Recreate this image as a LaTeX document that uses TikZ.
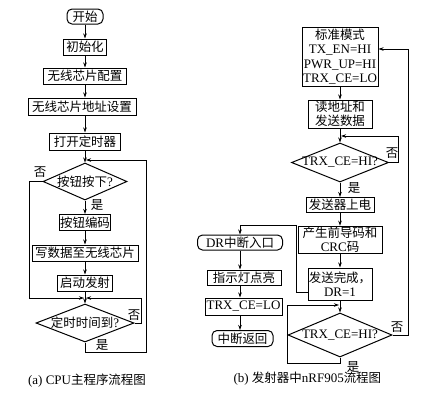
\documentclass[tikz,border=0pt]{standalone}
\usepackage{fontspec}
\setmainfont{Liberation Serif}
\newfontfamily\cjk[Scale=0.96]{Noto Sans CJK SC}
\newcommand\zh[1]{{\cjk #1}}
\usetikzlibrary{shapes.geometric,arrows.meta}
\begin{document}
\begin{tikzpicture}[x=1pt,y=-1pt,
  every node/.style={font=\fontsize{13}{14}\selectfont},
  box/.style={draw, line width=1pt, inner xsep=0.5pt, inner ysep=1pt, minimum height=16pt},
  rbox/.style={box, rounded corners=5pt},
  dia/.style={diamond, draw, line width=1pt, inner sep=-6pt},
  ln/.style={line width=0.9pt},
  arr/.style={ln, -{Stealth[length=5pt,width=3.5pt]}},
  lbl/.style={inner sep=0pt}]
\useasboundingbox (0,0) rectangle (431,400);
% ---------- (a) ----------
\node[rbox, minimum width=36pt, minimum height=15pt] (a1) at (85,16.5) {\zh{开始}};
\node[box, minimum width=43pt] (a2) at (85,47) {\zh{初始化}};
\node[box, minimum width=83pt] (a3) at (85,76) {\zh{无线芯片配置}};
\node[box, minimum width=108pt, minimum height=17pt] (a4) at (82,106.5) {\zh{无线芯片地址设置}};
\node[box, minimum width=71pt, minimum height=17pt] (a5) at (85,141.5) {\zh{打开定时器}};
\coordinate (j1) at (85,160);
\node[dia, aspect=2.3, minimum width=84pt, minimum height=37pt] (d1) at (85,181.5) {\zh{按钮按下}?};
\node[box, minimum width=48pt] (a6) at (85,222.5) {\zh{按钮编码}};
\node[box, minimum width=106pt] (a7) at (85,253) {\zh{写数据至无线芯片}};
\node[box, minimum width=55pt] (a8) at (85,283) {\zh{启动发射}};
\coordinate (j2) at (85,298);
\node[dia, aspect=2.6, minimum width=98pt, minimum height=38pt] (d2) at (85,323) {\zh{定时时间到}?};

\draw[arr] (a1) -- (a2);
\draw[arr] (a2) -- (a3);
\draw[arr] (a3) -- (a3 |- a4.north);
\draw[arr] (a5 |- a4.south) -- (a5);
\draw[arr] (a5) -- (d1);
\draw[arr] (d1) -- (a6);
\draw[arr] (a6) -- (a7);
\draw[arr] (a7) -- (a8);
\draw[arr] (a8) -- (d2);
\draw[arr, shorten >=1pt] (d1.west) -- (29,181.5) -- (29,298) -- (j2);
\draw[arr, shorten >=1pt] (d2.east) -- (141,323) -- (141,298) -- (j2);
\draw[arr, shorten >=1pt] (d2.south) -- (85,352) -- (146,352) -- (146,160) -- (j1);
\node[lbl] (n1) at (40,172) {\zh{否}};
\node[lbl] (y1) at (97,205) {\zh{是}};
\node[lbl] (n2) at (134,315) {\zh{否}};
\node[lbl] (y2) at (102,345) {\zh{是}};
\node (capa) at (87,381) {(a) CPU\zh{主程序流程图}};
% ---------- (b) ----------
\node[box, align=center, minimum width=76pt, minimum height=59pt, font=\fontsize{13}{14.5}\selectfont] (b1) at (340,56.5) {\zh{标准模式}\\TX\_EN=HI\\PWR\_UP=HI\\TRX\_CE=LO};
\node[box, align=center, minimum width=64pt, minimum height=28pt] (b2) at (340,114) {\zh{读地址和}\\\zh{发送数据}};
\coordinate (jb1) at (340,136);
\node[dia, aspect=2.5, minimum width=97pt, minimum height=39pt] (db1) at (340,162.5) {TRX\_CE=HI?};
\node[box, minimum width=68pt, minimum height=15pt] (b3) at (340,205) {\zh{发送器上电}};
\node[box, align=center, minimum width=84pt, minimum height=26pt] (b4) at (340,240) {\zh{产生前导码和}\\CRC\zh{码}};
\node[box, align=center, minimum width=64pt, minimum height=32pt] (b5) at (340,284) {\zh{发送完成，}\\DR=1};
\coordinate (jb2) at (340,305);
\node[dia, aspect=2.4, minimum width=104pt, minimum height=44pt] (db2) at (340,335) {TRX\_CE=HI?};

\node[rbox, minimum width=85pt, minimum height=15pt] (c1) at (240,242.5) {DR\zh{中断入口}};
\node[box, minimum width=74pt, minimum height=15pt] (c2) at (244,277.5) {\zh{指示灯点亮}};
\node[box, minimum width=77pt, minimum height=17pt] (c3) at (243.5,306.5) {TRX\_CE=LO};
\node[rbox, minimum width=61pt, minimum height=16pt] (c4) at (242.5,338.5) {\zh{中断返回}};

\draw[arr] (b1) -- (b2);
\draw[arr] (b2) -- (db1);
\draw[arr] (db1) -- (b3);
\draw[arr] (b3) -- (b4);
\draw[arr] (b4) -- (b5);
\draw[arr] (b5) -- (db2);
\draw[arr, shorten >=1pt] (db1.east) -- (398,162.5) -- (398,136) -- (jb1);
\draw[arr, shorten >=1pt] (db2.south) -- (340,363) -- (287,363) -- (287,305) -- (jb2);
\draw[arr] (db2.east) -- (408,335) -- (408,49) -- (b1.east |- 408,49);
\draw[arr] ([yshift=-8pt]b5.west) -- (296,292) -- (296,225) -- (240,225) -- (c1.north -| 240,0);
\draw[arr] (c1.south -| 240,0) -- (c2.north -| 240,0);
\draw[arr] (c2.south -| 240,0) -- (c3.north -| 240,0);
\draw[arr] (c3.south -| 240,0) -- (c4.north -| 240,0);
\node[lbl] (n3) at (392,153) {\zh{否}};
\node[lbl] (y3) at (354,188) {\zh{是}};
\node[lbl] (n4) at (397,327) {\zh{否}};
\node[lbl] (y4) at (353,367) {\zh{是}};
\node[anchor=west] (capb) at (230,379) {(b) \zh{发射器中}nRF905\zh{流程图}};
\end{tikzpicture}
\end{document}
